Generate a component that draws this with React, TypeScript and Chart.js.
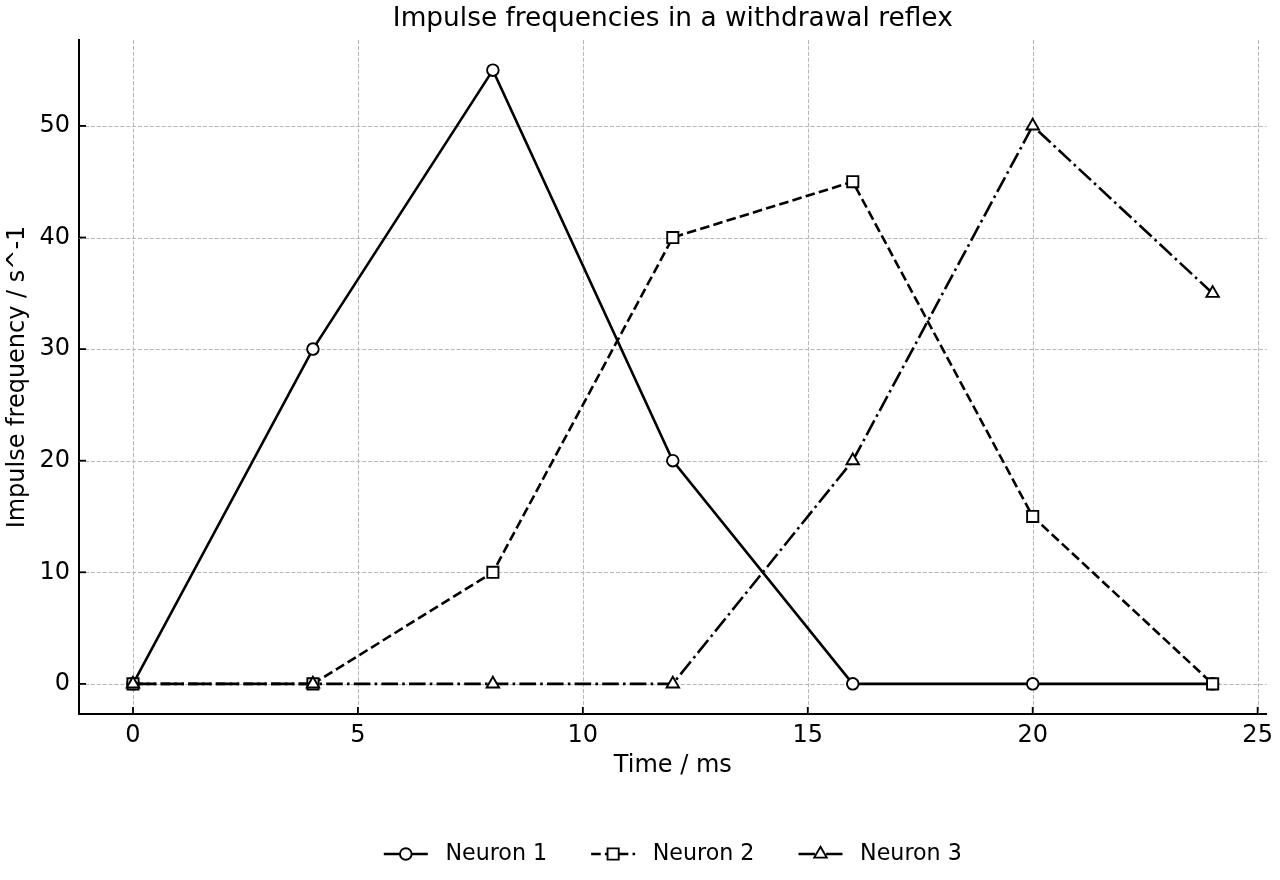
import React, { useEffect, useRef } from "react";
import { Chart, registerables } from "chart.js";

Chart.register(...registerables);

const timeMs = [0, 4, 8, 12, 16, 20, 24];
const neuron1 = [0, 30, 55, 20, 0, 0, 0];
const neuron2 = [0, 0, 10, 40, 45, 15, 0];
const neuron3 = [0, 0, 0, 0, 20, 50, 35];
const seriesNames = ["Neuron 1", "Neuron 2", "Neuron 3"];
const xTicks = [0, 5, 10, 15, 20, 25];
const yTicks = [0, 10, 20, 30, 40, 50];

const FONT = "'DejaVu Sans', sans-serif";
const TITLE = "Impulse frequencies in a withdrawal reflex";
const X_TITLE = "Time / ms";
const Y_TITLE = "Impulse frequency / s^-1";

const toPoints = (ys: number[]) => timeMs.map((x, i) => ({ x, y: ys[i] }));

// Legend marker with the same geometry Chart.js uses for its point styles.
function drawMarker(ctx: CanvasRenderingContext2D, style: string, r: number, x: number, y: number) {
  ctx.beginPath();
  if (style === "circle") {
    ctx.arc(x, y, r, 0, Math.PI * 2);
  } else if (style === "rect") {
    const s = Math.SQRT1_2 * r;
    ctx.rect(x - s, y - s, 2 * s, 2 * s);
  } else {
    let rad = 0;
    ctx.moveTo(x + Math.sin(rad) * r, y - Math.cos(rad) * r);
    rad += (2 * Math.PI) / 3;
    ctx.lineTo(x + Math.sin(rad) * r, y - Math.cos(rad) * r);
    rad += (2 * Math.PI) / 3;
    ctx.lineTo(x + Math.sin(rad) * r, y - Math.cos(rad) * r);
  }
  ctx.closePath();
  ctx.fill();
  ctx.stroke();
}

// Dashed grid, inward tick marks, title, axis titles and a line+marker legend.
const decorations = {
  id: "decorations",
  beforeDatasetsDraw(chart: any) {
    const { ctx, chartArea, scales } = chart;
    ctx.save();
    ctx.strokeStyle = "#b8b8b8";
    ctx.lineWidth = 1;
    ctx.setLineDash([4.1, 1.8]);
    for (const v of xTicks) {
      const px = Math.round(scales.x.getPixelForValue(v)) + 0.5;
      ctx.beginPath();
      ctx.moveTo(px, chartArea.top);
      ctx.lineTo(px, chartArea.bottom);
      ctx.stroke();
    }
    for (const v of yTicks) {
      const py = Math.round(scales.y.getPixelForValue(v)) + 0.5;
      ctx.beginPath();
      ctx.moveTo(chartArea.left, py);
      ctx.lineTo(chartArea.right, py);
      ctx.stroke();
    }
    ctx.restore();
  },
  afterDraw(chart: any) {
    const { ctx, chartArea, scales } = chart;
    const cx = (chartArea.left + chartArea.right) / 2;
    const cy = (chartArea.top + chartArea.bottom) / 2;
    ctx.save();
    // inward ticks
    ctx.strokeStyle = "#000";
    ctx.lineWidth = 1.8;
    ctx.setLineDash([]);
    for (const v of xTicks) {
      const px = scales.x.getPixelForValue(v);
      ctx.beginPath();
      ctx.moveTo(px, chartArea.bottom);
      ctx.lineTo(px, chartArea.bottom - 7);
      ctx.stroke();
    }
    for (const v of yTicks) {
      const py = scales.y.getPixelForValue(v);
      ctx.beginPath();
      ctx.moveTo(chartArea.left, py);
      ctx.lineTo(chartArea.left + 7, py);
      ctx.stroke();
    }

    // titles
    ctx.fillStyle = "#000";
    ctx.textAlign = "center";
    ctx.textBaseline = "middle";
    ctx.font = `26.4px ${FONT}`;
    ctx.fillText(TITLE, cx, 19);
    ctx.font = `24px ${FONT}`;
    ctx.fillText(X_TITLE, cx, 766);
    ctx.save();
    ctx.translate(18, cy);
    ctx.rotate(-Math.PI / 2);
    ctx.fillText(Y_TITLE, 0, 0);
    ctx.restore();

    // legend
    ctx.font = `22.2px ${FONT}`;
    const handle = 44;
    const textPad = 17.6;
    const colGap = 44;
    const widths = seriesNames.map((n) => ctx.measureText(n).width);
    const total =
      widths.reduce((a, b) => a + b, 0) + seriesNames.length * (handle + textPad) + colGap * (seriesNames.length - 1);
    let x = cx - total / 2;
    const ly = 854;
    chart.data.datasets.forEach((ds: any, i: number) => {
      ctx.save();
      ctx.strokeStyle = ds.borderColor;
      ctx.lineWidth = ds.borderWidth;
      ctx.setLineDash(ds.borderDash || []);
      ctx.beginPath();
      ctx.moveTo(x, ly);
      ctx.lineTo(x + handle, ly);
      ctx.stroke();
      ctx.setLineDash([]);
      ctx.fillStyle = ds.pointBackgroundColor;
      ctx.strokeStyle = ds.pointBorderColor;
      ctx.lineWidth = ds.pointBorderWidth;
      drawMarker(ctx, ds.pointStyle, ds.pointRadius, x + handle / 2, ly);
      ctx.restore();
      ctx.fillStyle = "#000";
      ctx.textAlign = "left";
      ctx.textBaseline = "middle";
      ctx.fillText(seriesNames[i], x + handle + textPad, ly);
      x += handle + textPad + widths[i] + colGap;
    });
    ctx.restore();
  },
};

export default function App() {
  const canvasRef = useRef<HTMLCanvasElement | null>(null);

  useEffect(() => {
    const canvas = canvasRef.current;
    if (!canvas) return;
    const common = {
      borderColor: "#000",
      borderWidth: 2.6,
      pointBackgroundColor: "#fff",
      pointBorderColor: "#000",
      pointBorderWidth: 1.9,
      pointHoverRadius: 6,
      fill: false,
      tension: 0,
    };
    const chart = new Chart(canvas, {
      type: "line",
      data: {
        datasets: [
          {
            ...common,
            label: seriesNames[0],
            data: toPoints(neuron1),
            pointStyle: "circle",
            pointRadius: 5.8,
            borderDash: [],
            order: 2,
          },
          {
            ...common,
            label: seriesNames[1],
            data: toPoints(neuron2),
            pointStyle: "rect",
            pointRadius: 7.9,
            borderDash: [9.6, 4.2],
            order: 1,
          },
          {
            ...common,
            label: seriesNames[2],
            data: toPoints(neuron3),
            pointStyle: "triangle",
            pointRadius: 7.2,
            borderDash: [16.6, 4.2, 2.6, 4.2],
            order: 0,
          },
        ] as any,
      },
      options: {
        responsive: false,
        maintainAspectRatio: false,
        animation: false,
        devicePixelRatio: 1,
        layout: { padding: { top: 40, right: 13, left: 0, bottom: 0 } },
        plugins: {
          legend: { display: false },
          title: { display: false },
          tooltip: { enabled: false },
        },
        scales: {
          x: {
            type: "linear",
            min: -1.2,
            max: 25.2,
            afterFit: (s: any) => {
              s.height = 166;
            },
            afterBuildTicks: (s: any) => {
              s.ticks = xTicks.map((value) => ({ value }));
            },
            grid: { display: false, drawTicks: false },
            border: { display: true, color: "#000", width: 2 },
            ticks: {
              color: "#000",
              padding: 7,
              maxRotation: 0,
              font: { family: FONT, size: 24 },
            },
          },
          y: {
            type: "linear",
            min: -2.7,
            max: 57.7,
            afterFit: (s: any) => {
              s.width = 79;
            },
            afterBuildTicks: (s: any) => {
              s.ticks = yTicks.map((value) => ({ value }));
            },
            grid: { display: false, drawTicks: false },
            border: { display: true, color: "#000", width: 2 },
            ticks: {
              color: "#000",
              padding: 9,
              font: { family: FONT, size: 24 },
            },
          },
        },
      },
      plugins: [decorations],
    } as any);
    return () => chart.destroy();
  }, []);

  return (
    <div style={{ position: "absolute", left: 0, top: 0, width: 1280, height: 880, background: "#fff" }}>
      <canvas ref={canvasRef} width={1280} height={880} style={{ display: "block" }} />
    </div>
  );
}
